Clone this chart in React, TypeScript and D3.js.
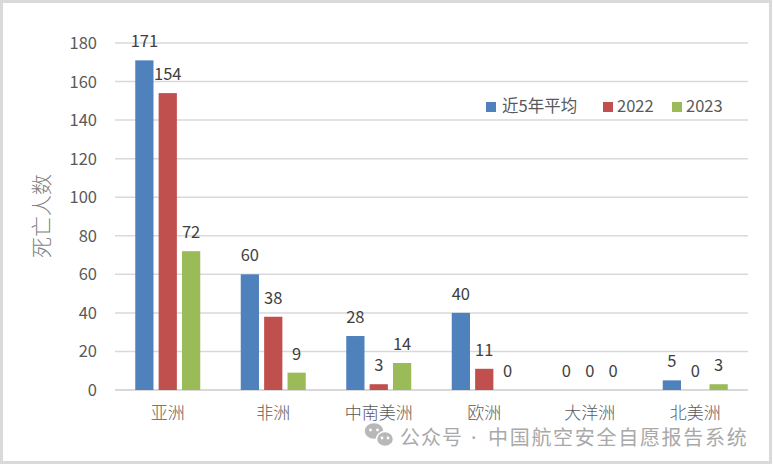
import React, { useEffect, useRef } from 'react';
import * as d3 from 'd3';

const categories = ['亚洲', '非洲', '中南美洲', '欧洲', '大洋洲', '北美洲'];
const seriesNames = ['近5年平均', '2022', '2023'];
const avg5 = [171, 60, 28, 40, 0, 5];
const y2022 = [154, 38, 3, 11, 0, 0];
const y2023 = [72, 9, 14, 0, 0, 3];
const yTicks = [0, 20, 40, 60, 80, 100, 120, 140, 160, 180];
const colors = ['#4f81bd', '#c0504d', '#9bbb59'];

const W = 774;
const H = 466;
const FONT = '"Noto Sans CJK SC", "Noto Sans", sans-serif';

const App: React.FC = () => {
  const svgRef = useRef<SVGSVGElement>(null);

  useEffect(() => {
    if (!svgRef.current) return;
    const svg = d3.select(svgRef.current);
    svg.selectAll('*').remove();

    const left = 115;
    const right = 748;
    const top = 43;
    const bottom = 390;

    // outer frame
    svg.append('rect')
      .attr('x', 1.5).attr('y', 1.5)
      .attr('width', W - 5).attr('height', H - 5)
      .attr('fill', '#fff')
      .attr('stroke', '#d9d9d9')
      .attr('stroke-width', 3);

    const y = d3.scaleLinear().domain([0, 180]).range([bottom, top]);
    const x0 = d3.scaleBand<string>().domain(categories).range([left, right]).padding(0);
    const groupW = 65;
    const x1 = d3.scaleBand<string>().domain(seriesNames).range([0, groupW]).paddingInner(0.22);

    // grid
    svg.append('g').selectAll('line')
      .data(yTicks)
      .join('line')
      .attr('x1', left).attr('x2', right)
      .attr('y1', (d) => y(d)).attr('y2', (d) => y(d))
      .attr('stroke', '#d9d9d9')
      .attr('stroke-width', (d) => (d === 0 ? 2 : 1.5));

    // y tick labels
    svg.append('g').selectAll('text')
      .data(yTicks)
      .join('text')
      .attr('x', 97)
      .attr('y', (d) => y(d) + 6)
      .attr('text-anchor', 'end')
      .style('font-size', '16.5px')
      .style('font-family', FONT)
      .style('fill', '#595959')
      .text((d) => d);

    // y title
    svg.append('text')
      .attr('transform', 'translate(49,216) rotate(-90)')
      .attr('text-anchor', 'middle')
      .style('font-size', '21px')
      .style('font-weight', '300')
      .style('font-family', FONT)
      .style('fill', '#7f7f7f')
      .text('死亡人数');

    const values = [avg5, y2022, y2023];
    const rows = categories.flatMap((c, i) =>
      seriesNames.map((s, j) => ({ cat: c, series: s, value: values[j][i], color: colors[j] }))
    );
    const barX = (d: { cat: string; series: string }) =>
      (x0(d.cat) as number) + x0.bandwidth() / 2 - groupW / 2 + (x1(d.series) as number);

    svg.append('g').selectAll('rect')
      .data(rows)
      .join('rect')
      .attr('x', barX)
      .attr('y', (d) => y(d.value))
      .attr('width', x1.bandwidth())
      .attr('height', (d) => bottom - y(d.value))
      .attr('fill', (d) => d.color);

    // data labels
    svg.append('g').selectAll('text')
      .data(rows)
      .join('text')
      .attr('x', (d) => barX(d) + x1.bandwidth() / 2)
      .attr('y', (d) => y(d.value) - 13)
      .attr('text-anchor', 'middle')
      .style('font-size', '16.5px')
      .style('font-family', FONT)
      .style('fill', '#404040')
      .text((d) => d.value);

    // category labels
    svg.append('g').selectAll('text')
      .data(categories)
      .join('text')
      .attr('x', (d) => (x0(d) as number) + x0.bandwidth() / 2)
      .attr('y', 419)
      .attr('text-anchor', 'middle')
      .style('font-size', '17px')
      .style('font-weight', '300')
      .style('font-family', FONT)
      .style('fill', '#595959')
      .text((d) => d);

    // legend
    const legendX = [486, 603, 672];
    const lg = svg.append('g').selectAll('g')
      .data(seriesNames)
      .join('g')
      .attr('transform', (_d, i) => `translate(${legendX[i]},102)`);
    lg.append('rect')
      .attr('width', 10).attr('height', 10)
      .attr('fill', (_d, i) => colors[i]);
    lg.append('text')
      .attr('x', (_d, i) => (i === 0 ? 16 : 14))
      .attr('y', 10)
      .style('font-size', '16.5px')
      .style('font-family', FONT)
      .style('fill', '#595959')
      .text((d) => d);

    // watermark
    const wm = svg.append('g');
    const bubble = (cx: number, cy: number, rx: number, ry: number, eye: number) => {
      wm.append('ellipse').attr('cx', cx).attr('cy', cy).attr('rx', rx).attr('ry', ry)
        .attr('fill', '#b8b8b8').attr('stroke', '#fff').attr('stroke-width', 1.5);
      wm.append('circle').attr('cx', cx - eye).attr('cy', cy - 1).attr('r', 1.4).attr('fill', '#fff');
      wm.append('circle').attr('cx', cx + eye).attr('cy', cy - 1).attr('r', 1.4).attr('fill', '#fff');
    };
    bubble(374, 431, 10, 8.5, 3.5);
    bubble(385, 439, 8.5, 7.5, 3);
    const wt = wm.append('text')
      .attr('y', 445)
      .style('font-size', '20px')
      .style('font-family', FONT)
      .style('fill', '#a9a9a9');
    wt.append('tspan').attr('x', 400).style('letter-spacing', '1px').text('公众号');
    wt.append('tspan').attr('x', 471).style('font-family', '"Noto Sans", sans-serif').text('·');
    wt.append('tspan').attr('x', 488).style('letter-spacing', '1.7px').text('中国航空安全自愿报告系统');
  }, []);

  return (
    <svg
      ref={svgRef}
      width={W}
      height={H}
      style={{ display: 'block', position: 'absolute', left: 0, top: 0 }}
    />
  );
};

export default App;
